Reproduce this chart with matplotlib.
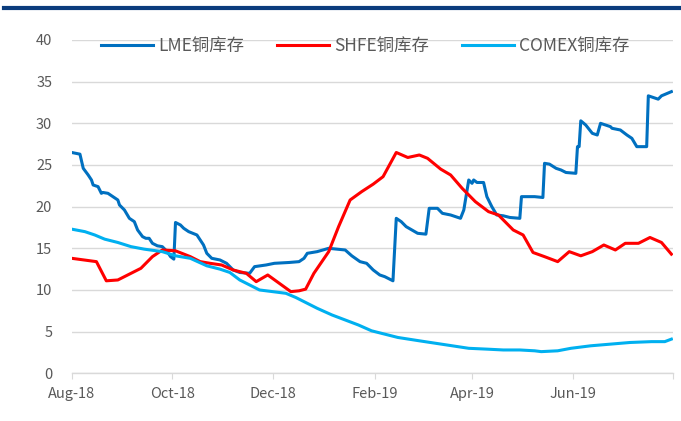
import numpy as np
import pandas as pd
import matplotlib
matplotlib.use('Agg')
import matplotlib.pyplot as plt
from matplotlib.lines import Line2D

plt.rcParams['font.family'] = ['Noto Sans CJK SC', 'DejaVu Sans']

# LME铜库存 (万吨)
lme_dates = ['2018-08-01', '2018-08-06', '2018-08-08', '2018-08-11', '2018-08-13', '2018-08-14',
             '2018-08-17', '2018-08-19', '2018-08-20', '2018-08-23', '2018-08-26', '2018-08-29',
             '2018-08-30', '2018-09-02', '2018-09-05', '2018-09-08', '2018-09-10', '2018-09-13',
             '2018-09-15', '2018-09-17', '2018-09-19', '2018-09-22', '2018-09-25', '2018-09-28',
             '2018-09-30', '2018-10-02', '2018-10-03', '2018-10-06', '2018-10-08', '2018-10-11',
             '2018-10-16', '2018-10-20', '2018-10-22', '2018-10-25', '2018-10-30', '2018-11-03',
             '2018-11-07', '2018-11-11', '2018-11-17', '2018-11-20', '2018-11-27', '2018-12-02',
             '2018-12-11', '2018-12-17', '2018-12-20', '2018-12-22', '2018-12-28', '2019-01-04',
             '2019-01-14', '2019-01-18', '2019-01-23', '2019-01-27', '2019-01-31', '2019-02-04',
             '2019-02-07', '2019-02-12', '2019-02-14', '2019-02-17', '2019-02-20', '2019-02-27',
             '2019-03-04', '2019-03-06', '2019-03-11', '2019-03-14', '2019-03-19', '2019-03-25',
             '2019-03-27', '2019-03-30', '2019-04-01', '2019-04-02', '2019-04-04', '2019-04-08',
             '2019-04-10', '2019-04-13', '2019-04-16', '2019-04-20', '2019-04-24', '2019-04-30',
             '2019-05-01', '2019-05-09', '2019-05-14', '2019-05-15', '2019-05-18', '2019-05-22',
             '2019-05-25', '2019-05-28', '2019-06-03', '2019-06-04', '2019-06-05', '2019-06-06',
             '2019-06-09', '2019-06-13', '2019-06-16', '2019-06-18', '2019-06-24', '2019-06-25',
             '2019-06-30', '2019-07-04', '2019-07-07', '2019-07-10', '2019-07-16', '2019-07-17',
             '2019-07-23', '2019-07-25', '2019-07-31']
lme_values = [26.5, 26.3, 24.6, 23.8, 23.2, 22.6,
              22.4, 21.6, 21.7, 21.6, 21.2, 20.8,
              20.2, 19.6, 18.6, 18.2, 17.2, 16.4,
              16.2, 16.2, 15.6, 15.3, 15.2, 14.6,
              14.0, 13.7, 18.1, 17.8, 17.4, 17.0,
              16.6, 15.4, 14.4, 13.8, 13.6, 13.2,
              12.4, 12.1, 12.0, 12.8, 13.0, 13.2,
              13.3, 13.4, 13.8, 14.4, 14.6, 15.0,
              14.8, 14.1, 13.4, 13.2, 12.4, 11.8,
              11.6, 11.1, 18.6, 18.2, 17.6, 16.8,
              16.7, 19.8, 19.8, 19.2, 19.0, 18.6,
              19.6, 23.2, 22.8, 23.2, 22.9, 22.9,
              21.2, 20.0, 19.0, 18.9, 18.7, 18.6,
              21.2, 21.2, 21.1, 25.2, 25.1, 24.6,
              24.4, 24.1, 24.0, 27.2, 27.2, 30.3,
              29.8, 28.8, 28.6, 30.0, 29.6, 29.4,
              29.2, 28.6, 28.2, 27.2, 27.2, 33.3,
              32.9, 33.3, 33.8]

# SHFE铜库存
shfe_dates = ['2018-08-01', '2018-08-16', '2018-08-22', '2018-08-29', '2018-09-12', '2018-09-19',
              '2018-09-25', '2018-10-03', '2018-10-12', '2018-10-18', '2018-10-24', '2018-10-31',
              '2018-11-07', '2018-11-15', '2018-11-21', '2018-11-28', '2018-12-05', '2018-12-12',
              '2018-12-17', '2018-12-21', '2018-12-26', '2019-01-04', '2019-01-10', '2019-01-17',
              '2019-01-24', '2019-01-31', '2019-02-06', '2019-02-14', '2019-02-21', '2019-02-28',
              '2019-03-05', '2019-03-13', '2019-03-19', '2019-03-26', '2019-04-03', '2019-04-11',
              '2019-04-17', '2019-04-22', '2019-04-26', '2019-05-02', '2019-05-08', '2019-05-15',
              '2019-05-23', '2019-05-30', '2019-06-06', '2019-06-13', '2019-06-20', '2019-06-27',
              '2019-07-03', '2019-07-11', '2019-07-18', '2019-07-25', '2019-07-31']
shfe_values = [13.8, 13.4, 11.1, 11.2, 12.6, 14.0,
               14.8, 14.7, 14.0, 13.4, 13.2, 13.0,
               12.4, 12.0, 11.0, 11.8, 10.8, 9.8,
               9.9, 10.1, 12.0, 14.6, 17.6, 20.8,
               21.8, 22.7, 23.6, 26.5, 25.9, 26.2,
               25.8, 24.5, 23.8, 22.2, 20.6, 19.4,
               19.0, 18.0, 17.2, 16.6, 14.5, 14.0,
               13.4, 14.6, 14.1, 14.6, 15.4, 14.8,
               15.6, 15.6, 16.3, 15.7, 14.3]

# COMEX铜库存
comex_dates = ['2018-08-01', '2018-08-09', '2018-08-15', '2018-08-21', '2018-08-29', '2018-09-06',
               '2018-09-14', '2018-09-25', '2018-10-03', '2018-10-12', '2018-10-22', '2018-10-30',
               '2018-11-05', '2018-11-11', '2018-11-17', '2018-11-23', '2018-12-01', '2018-12-09',
               '2018-12-15', '2018-12-20', '2018-12-28', '2019-01-06', '2019-01-14', '2019-01-22',
               '2019-01-30', '2019-02-07', '2019-02-15', '2019-02-28', '2019-03-10', '2019-03-20',
               '2019-03-30', '2019-04-10', '2019-04-20', '2019-04-30', '2019-05-09', '2019-05-13',
               '2019-05-23', '2019-05-31', '2019-06-12', '2019-06-24', '2019-07-06', '2019-07-19',
               '2019-07-27', '2019-07-31']
comex_values = [17.3, 17.0, 16.6, 16.1, 15.7, 15.2,
                14.9, 14.6, 14.1, 13.8, 12.9, 12.5,
                12.1, 11.2, 10.6, 10.0, 9.8, 9.6,
                9.1, 8.6, 7.8, 7.0, 6.4, 5.8,
                5.1, 4.7, 4.3, 3.9, 3.6, 3.3,
                3.0, 2.9, 2.8, 2.8, 2.7, 2.6,
                2.7, 3.0, 3.3, 3.5, 3.7, 3.8,
                3.8, 4.1]

tick_dates = ['2018-08-01', '2018-10-01', '2018-12-01', '2019-02-01', '2019-04-01', '2019-06-01', '2019-08-01']
tick_labels = ['Aug-18', 'Oct-18', 'Dec-18', 'Feb-19', 'Apr-19', 'Jun-19', '']

fig = plt.figure(figsize=(6.81, 4.21), dpi=100)
ax = fig.add_axes([0.1053, 0.1133, 0.883, 0.7917])

# 顶部深蓝色横条
fig.add_artist(Line2D([0.006, 1.0], [0.981, 0.981], transform=fig.transFigure,
                      color='#0B3C7D', linewidth=3))

ax.plot(pd.to_datetime(lme_dates), lme_values, color='#0070C0', lw=2.2, label='LME铜库存')
ax.plot(pd.to_datetime(shfe_dates), shfe_values, color='#FF0000', lw=2.2, label='SHFE铜库存')
ax.plot(pd.to_datetime(comex_dates), comex_values, color='#00B0F0', lw=2.2, label='COMEX铜库存')

ax.set_xlim(pd.Timestamp('2018-08-01'), pd.Timestamp('2019-08-01'))
ax.set_ylim(0, 40)
ax.set_yticks(np.arange(0, 41, 5))
ax.set_xticks(pd.to_datetime(tick_dates))
ax.set_xticklabels(tick_labels)

ax.grid(axis='y', color='#D9D9D9', linewidth=1)
ax.set_axisbelow(True)
for s in ['top', 'right', 'left']:
    ax.spines[s].set_visible(False)
ax.spines['bottom'].set_color('#D9D9D9')
ax.spines['bottom'].set_linewidth(1)
ax.tick_params(axis='y', length=0, pad=14, labelsize=10.5, labelcolor='#595959')
ax.tick_params(axis='x', length=4, color='#D9D9D9', pad=6, labelsize=10.5, labelcolor='#595959')

leg = ax.legend(loc='center', bbox_to_anchor=(0.488, 0.983), ncol=3, frameon=False,
                fontsize=12.5, handlelength=3.0, columnspacing=1.9, handletextpad=0.28,
                borderaxespad=0.0, borderpad=0.0)
for t in leg.get_texts():
    t.set_color('#595959')

fig.savefig('out.png', dpi=100)
